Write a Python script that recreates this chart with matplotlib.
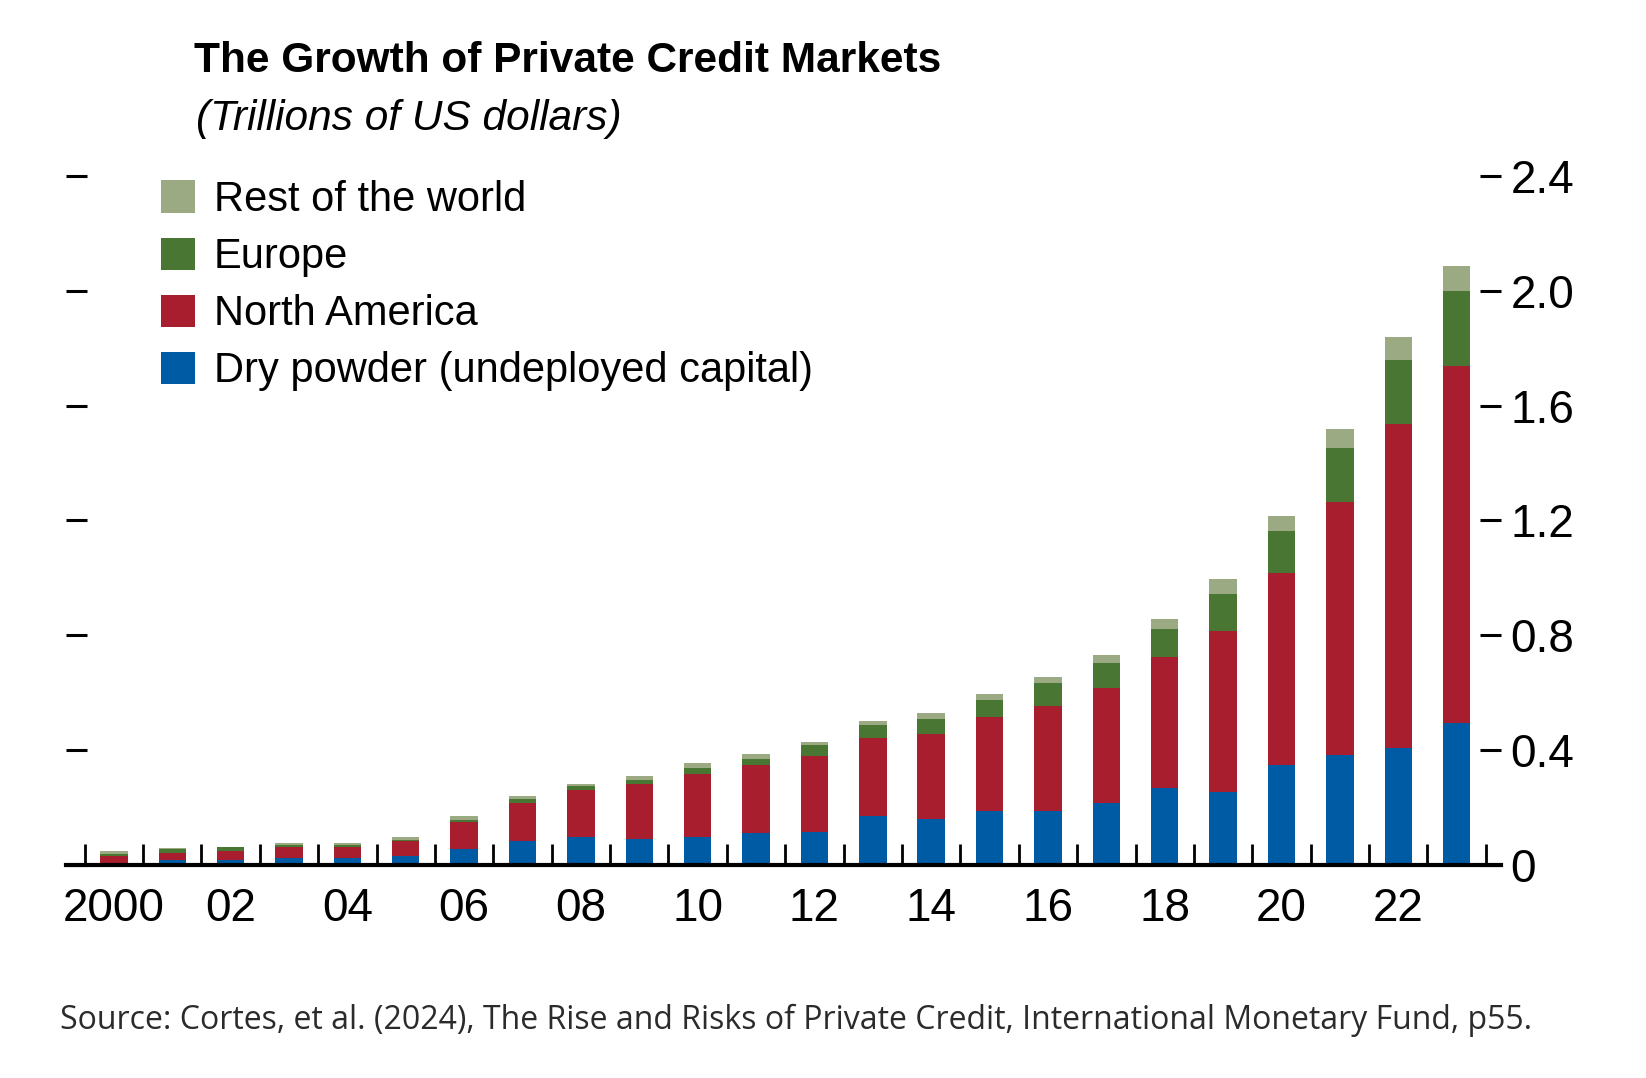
import numpy as np
import matplotlib.pyplot as plt
from matplotlib.ticker import FixedLocator

# Values (trillions of US dollars)
years = list(range(2000, 2024))
dry_powder = [0.000, 0.019, 0.019, 0.026, 0.026, 0.033, 0.055, 0.084, 0.099, 0.091, 0.099, 0.113,
              0.114, 0.172, 0.159, 0.189, 0.189, 0.217, 0.267, 0.254, 0.348, 0.382, 0.406, 0.495]
north_america = [0.033, 0.022, 0.029, 0.036, 0.036, 0.050, 0.095, 0.131, 0.161, 0.190, 0.219, 0.234,
                 0.264, 0.269, 0.298, 0.326, 0.363, 0.399, 0.458, 0.560, 0.669, 0.882, 1.128, 1.241]
europe = [0.007, 0.014, 0.014, 0.008, 0.008, 0.005, 0.008, 0.015, 0.014, 0.015, 0.021, 0.023,
          0.039, 0.046, 0.050, 0.059, 0.081, 0.089, 0.096, 0.131, 0.145, 0.188, 0.226, 0.264]
rest_of_world = [0.009, 0.003, 0.002, 0.007, 0.007, 0.011, 0.014, 0.009, 0.008, 0.015, 0.017, 0.016,
                 0.012, 0.015, 0.022, 0.022, 0.022, 0.028, 0.037, 0.050, 0.052, 0.066, 0.079, 0.086]

series_names = ["Dry powder (undeployed capital)", "North America", "Europe", "Rest of the world"]
colors = ["#005BA5", "#A81E2E", "#4A7634", "#9BAA82"]

xtick_pos = list(range(0, 24, 2))
xtick_labels = ["2000", "02", "04", "06", "08", "10", "12", "14", "16", "18", "20", "22"]
ytick_vals = [0, 0.4, 0.8, 1.2, 1.6, 2.0, 2.4]
ytick_labels = ["0", "0.4", "0.8", "1.2", "1.6", "2.0", "2.4"]

narrow = ["Liberation Sans Narrow", "DejaVu Sans Condensed", "Liberation Sans", "DejaVu Sans"]

fig = plt.figure(figsize=(16.46, 10.78), dpi=100)
ax = fig.add_axes([0.0401, 0.1976, 0.8718, 0.6393])

x = np.arange(len(years))
bottom = np.zeros(len(years))
handles = []
for vals, name, c in zip([dry_powder, north_america, europe, rest_of_world], series_names, colors):
    b = ax.bar(x, vals, width=0.47, bottom=bottom, color=c, label=name, linewidth=0)
    handles.append(b)
    bottom += np.array(vals)

ax.set_xlim(-0.82, 23.76)
ax.set_ylim(0, 2.4)

for s in ["top", "left", "right"]:
    ax.spines[s].set_visible(False)
ax.spines["bottom"].set_linewidth(3)

ax.set_xticks(xtick_pos)
ax.set_xticklabels(xtick_labels, family=narrow, fontsize=33)
ax.xaxis.set_minor_locator(FixedLocator(np.arange(-0.5, 24, 1)))
ax.tick_params(axis="x", which="major", length=0, pad=16)
ax.tick_params(axis="x", which="minor", direction="in", length=15, width=2)

ax.set_yticks(ytick_vals)
ax.set_yticklabels(ytick_labels, family=narrow, fontsize=33)
ax.tick_params(axis="y", direction="in", length=15, width=2.2, left=True, right=True,
               labelleft=False, labelright=True, pad=7)

leg = fig.legend(handles[::-1], series_names[::-1], loc="upper left",
                 bbox_to_anchor=(161 / 1646, 1 - 180 / 1078), frameon=False,
                 prop={"family": narrow, "size": 30}, handlelength=0.81, handleheight=0.81,
                 handletextpad=0.46, labelspacing=0.41, borderpad=0, borderaxespad=0)

fig.text(194 / 1646, 1 - 61 / 1078, "The Growth of Private Credit Markets", family=narrow,
         fontsize=30.5, fontweight="bold", va="center", ha="left")
fig.text(196 / 1646, 1 - 119 / 1078, "(Trillions of US dollars)", family=narrow,
         fontsize=30.5, style="italic", va="center", ha="left")
fig.text(60 / 1646, 1 - 1020 / 1078,
         "Source: Cortes, et al. (2024), The Rise and Risks of Private Credit, International Monetary Fund, p55.",
         family=["Open Sans", "DejaVu Sans"], fontsize=23, color="#2b2b2b", va="center", ha="left")

fig.savefig("out.png", dpi=100)
